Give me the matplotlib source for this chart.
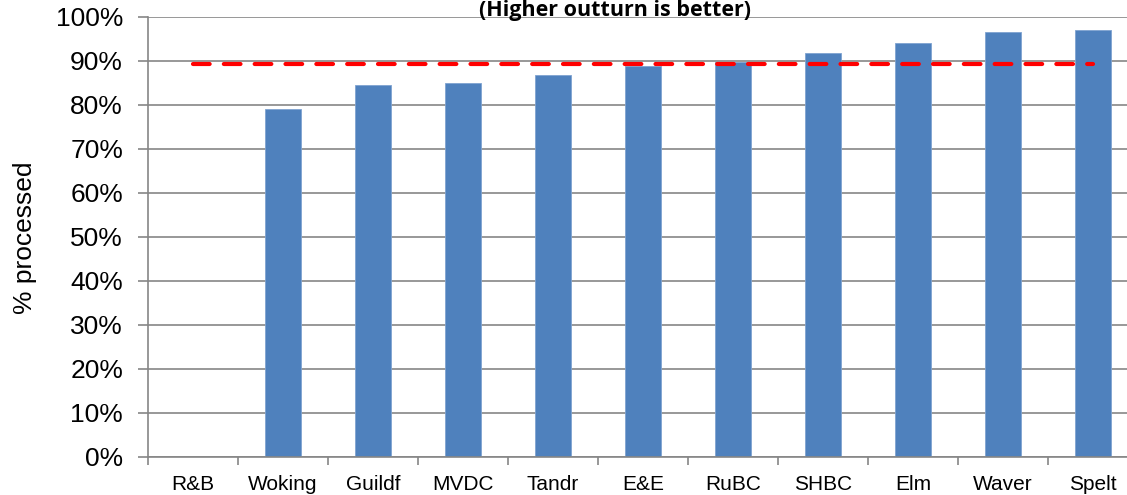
import matplotlib.pyplot as plt
from matplotlib.ticker import MultipleLocator, PercentFormatter

# Data
councils = ["R&B", "Woking", "Guildf", "MVDC", "Tandr", "E&E",
            "RuBC", "SHBC", "Elm", "Waver", "Spelt"]
pct_processed = [0, 79.0, 84.5, 85.0, 86.9, 88.9, 89.7, 91.9, 94.0, 96.5, 97.0]
target = 89.4

bar_colour = "#4F81BD"
grid_colour = "#868686"

fig = plt.figure(figsize=(11.27, 4.95), dpi=100)
ax = fig.add_axes([148 / 1127, 38 / 495, 990 / 1127, 440 / 495])

x = list(range(len(councils)))
ax.bar(x, pct_processed, width=0.4, color=bar_colour,
       edgecolor="#7FA3D1", linewidth=0.6, zorder=2)

# Target line across the category centres
ax.plot([x[0], x[-1]], [target, target], color="#FF0000", linewidth=3,
        linestyle=(0, (4, 3.4)), dash_capstyle="round", zorder=3)

ax.set_xlim(-0.5, len(councils) - 0.5)
ax.set_ylim(0, 100)

ax.yaxis.set_major_locator(MultipleLocator(10))
ax.yaxis.set_major_formatter(PercentFormatter(decimals=0))
ax.grid(axis="y", color=grid_colour, linewidth=1.2, zorder=0)
ax.set_axisbelow(True)

ax.set_xticks(x)
ax.set_xticklabels(councils, fontsize=15, family="Liberation Sans")
ax.set_xticks([i - 0.5 for i in range(len(councils) + 1)], minor=True)
ax.tick_params(axis="x", which="major", length=0, pad=13)
ax.tick_params(axis="x", which="minor", length=6, width=1.2, color=grid_colour)
ax.tick_params(axis="y", length=7, width=1.2, color=grid_colour, pad=11,
               labelsize=19)
for lbl in ax.get_yticklabels():
    lbl.set_family("Liberation Sans")

for side in ["top", "right"]:
    ax.spines[side].set_visible(False)
for side in ["left", "bottom"]:
    ax.spines[side].set_color(grid_colour)
    ax.spines[side].set_linewidth(1.2)

fig.text(25 / 1127, 0.52, "% processed", rotation=90, fontsize=19,
         family="Liberation Sans", ha="center", va="center")
fig.text(615 / 1127, 1 - 16 / 495, "(Higher outturn is better)", fontsize=15.5,
         fontweight="bold", family="Open Sans", ha="center", va="baseline")

fig.savefig("out.png", dpi=100)
